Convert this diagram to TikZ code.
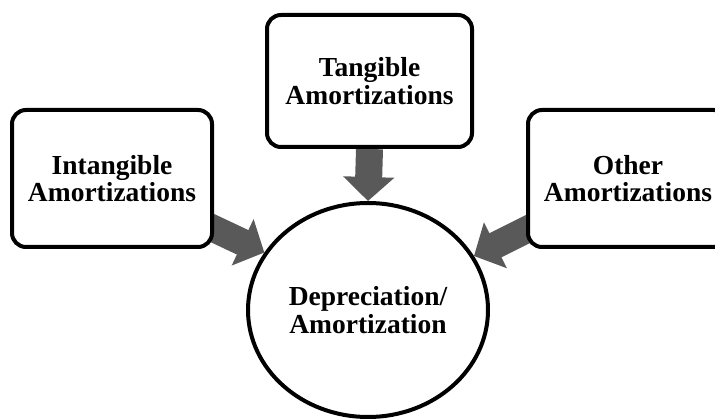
\documentclass[tikz,border=0pt]{standalone}
\usepackage{fontspec}
\setmainfont{Liberation Serif}
\usetikzlibrary{shapes.geometric,arrows.meta,backgrounds}
\definecolor{arrowgray}{RGB}{89,89,89}
\tikzset{
  every picture/.style={x=1pt,y=-1pt},
  boxnode/.style={draw=black,line width=4pt,rounded corners=14pt,fill=white,
    align=center,font=\bfseries\fontsize{27.5}{27.5}\selectfont},
  centernode/.style={draw=black,line width=4pt,ellipse,fill=white,
    minimum width=240pt,minimum height=214pt,inner sep=0pt,
    align=center,font=\bfseries\fontsize{27.5}{28}\selectfont},
  blockarrow/.style={draw=arrowgray,line width=27pt,
    -{Triangle[width=50pt,length=24pt]},fill=arrowgray}
}
\begin{document}
\begin{tikzpicture}
\useasboundingbox (0,0) rectangle (715,419);
\clip (0,0) rectangle (715,419);
% outer boxes
\node[boxnode,minimum width=200pt,minimum height=137pt] (lb) at (112,178.5)
  {Intangible\\Amortizations};
\node[boxnode,minimum width=205pt,minimum height=132pt] (tb) at (369.5,81)
  {Tangible\\Amortizations};
\node[boxnode,minimum width=200pt,minimum height=137pt] (rb) at (628,178.5)
  {Other\\Amortizations};
% central circle
\node[centernode] (dep) at (368,310) {Depreciation/\\Amortization};
% block arrows into the circle
\coordinate (lt) at (208,226);
\coordinate (rt) at (532,227);
\begin{scope}[on background layer]
  \draw[blockarrow] (lt) -- (dep.151);
  \draw[blockarrow] (tb.south) -- (dep.north);
  \draw[blockarrow] (rt) -- (dep.27);
\end{scope}
\end{tikzpicture}
\end{document}
